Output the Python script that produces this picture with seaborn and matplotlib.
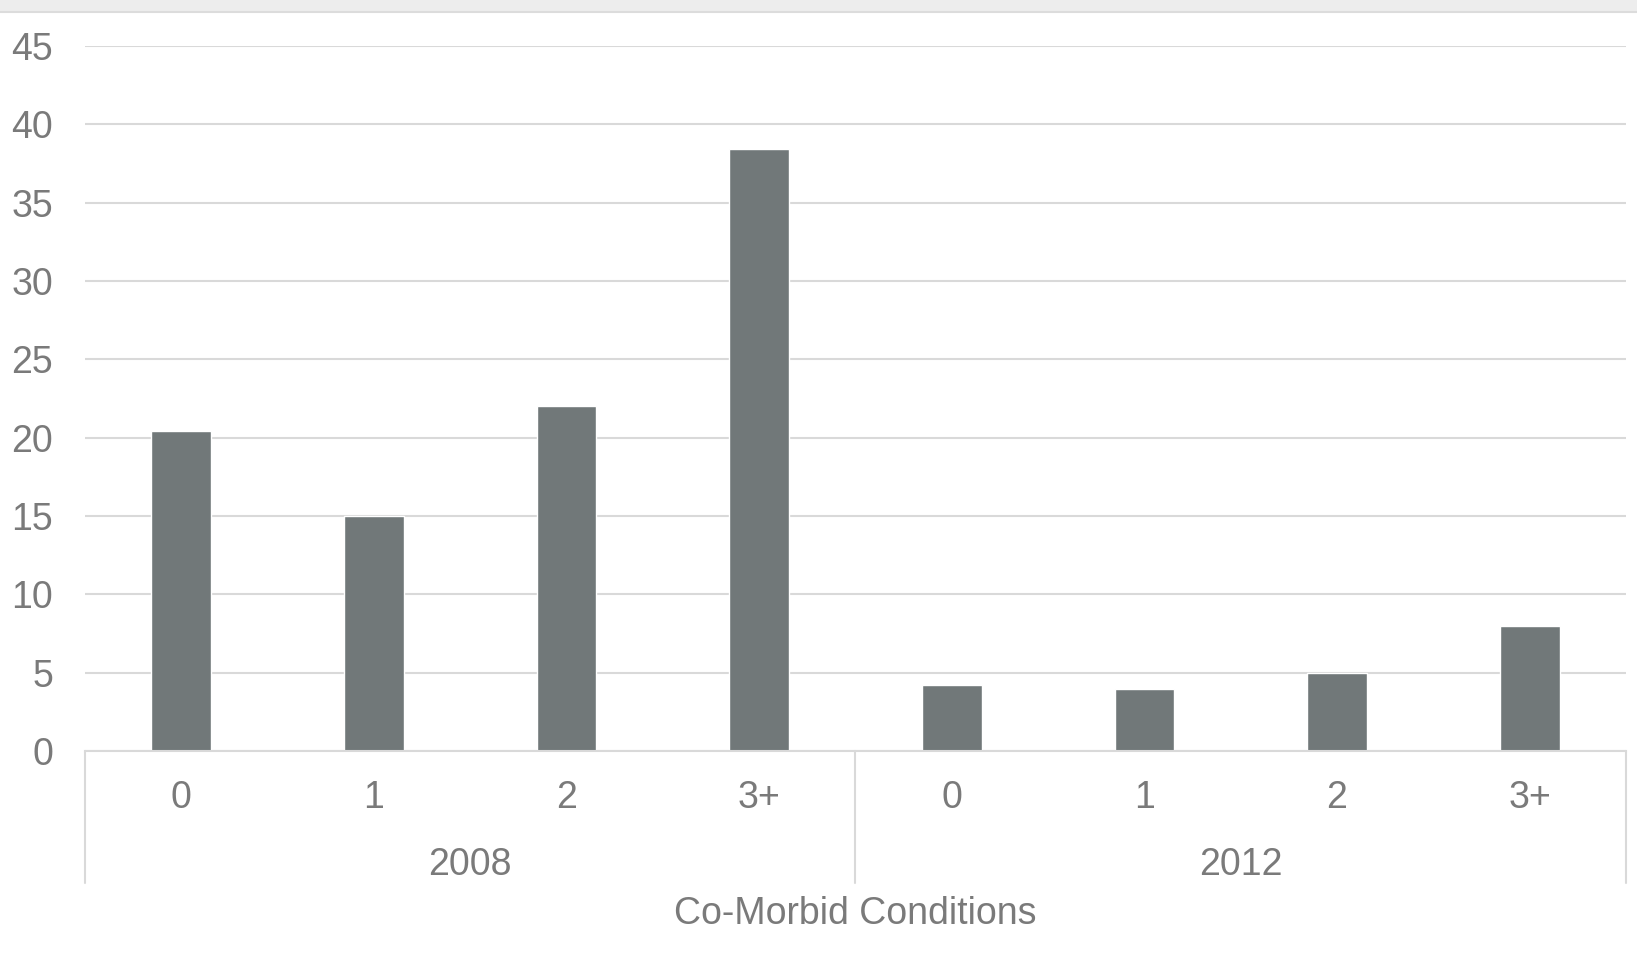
import pandas as pd
import seaborn as sns
import matplotlib.pyplot as plt
from matplotlib.patches import Rectangle
from matplotlib.lines import Line2D
import matplotlib.transforms as mtransforms

# chart data
years = ["2008", "2012"]
conditions = ["0", "1", "2", "3+"]
values_2008 = [20.4, 15.0, 22.05, 38.4]
values_2012 = [4.2, 3.95, 5.0, 8.0]
y_ticks = [0, 5, 10, 15, 20, 25, 30, 35, 40, 45]
x_title = "Co-Morbid Conditions"

rows = []
for year, vals in zip(years, [values_2008, values_2012]):
    for cond, v in zip(conditions, vals):
        rows.append({"year": year, "cond": cond, "slot": f"{year}-{cond}", "value": v})
df = pd.DataFrame(rows)

sns.set_style("white")
plt.rcParams["font.family"] = ["Liberation Sans", "DejaVu Sans"]

text_color = "#7a7a7a"
grid_color = "#d9d9d9"
bar_color = "#717879"

fig = plt.figure(figsize=(16.37, 9.58), dpi=100)
ax = fig.add_axes([85 / 1637, 207 / 958, (1626 - 85) / 1637, 705 / 958])

sns.barplot(data=df, x="slot", y="value", color=bar_color, width=0.31,
            saturation=1, ax=ax, errorbar=None)

ax.set_ylim(0, 45)
ax.set_xlim(-0.5, len(df) - 0.5)
ax.set_yticks(y_ticks)
ax.set_xticks(range(len(df)))
ax.set_xticklabels(df["cond"])
ax.tick_params(axis="both", length=0, labelsize=27, labelcolor=text_color)
ax.tick_params(axis="y", pad=23)
ax.tick_params(axis="x", pad=21)
ax.grid(axis="y", color=grid_color, lw=1.5)
ax.set_axisbelow(True)
for side in ["left", "right", "top"]:
    ax.spines[side].set_visible(False)
ax.spines["bottom"].set_color(grid_color)
ax.spines["bottom"].set_linewidth(1.5)
ax.set_xlabel("")
ax.set_ylabel("")

# second level of category axis
trans = mtransforms.blended_transform_factory(ax.transData, ax.transAxes)
n = len(conditions)
for i, year in enumerate(years):
    center = i * n + (n - 1) / 2
    ax.text(center, -0.162, year, transform=trans, ha="center", va="center",
            fontsize=27, color=text_color)
for xs in [-0.5, n - 0.5, 2 * n - 0.5]:
    ax.add_line(Line2D([xs, xs], [0, -0.187], transform=trans, color=grid_color,
                       lw=1.5, clip_on=False))

ax.text(0.5, -0.2315, x_title, transform=ax.transAxes, ha="center", va="center",
        fontsize=27, color=text_color)

# light band across the top of the slide
fig.patches.append(Rectangle((0, 1 - 12 / 958), 1, 12 / 958, transform=fig.transFigure,
                             facecolor="#ededed", edgecolor="none"))
fig.lines.append(Line2D([0, 1], [1 - 12 / 958, 1 - 12 / 958], transform=fig.transFigure,
                        color="#dcdcdc", lw=1.5))

fig.savefig("out.png", dpi=100, facecolor="white")
